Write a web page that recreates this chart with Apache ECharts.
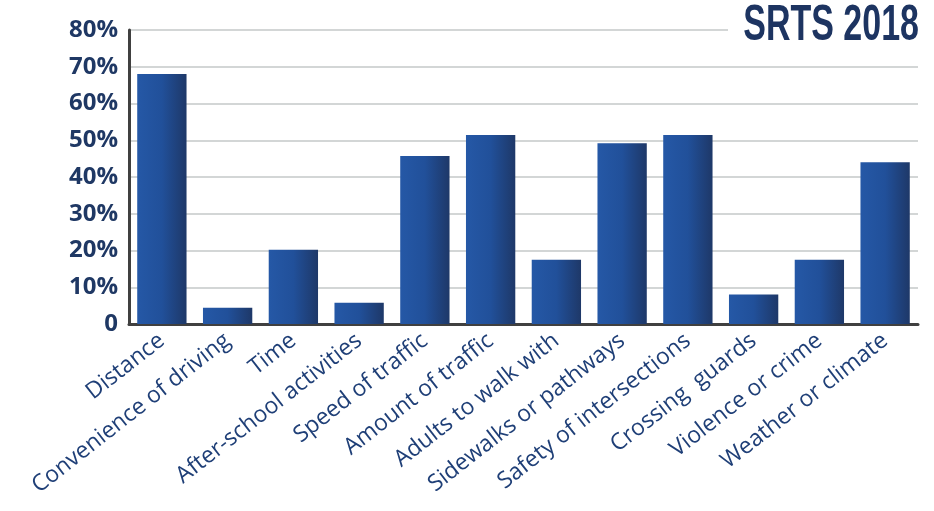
<!DOCTYPE html>
<html>
<head>
<meta charset="utf-8">
<script src="https://cdn.jsdelivr.net/npm/echarts@6/dist/echarts.min.js"></script>
<style>
html,body{margin:0;padding:0;background:#fff;}
#chart{width:934px;height:511px;}
</style>
</head>
<body>
<div id="chart"></div>
<script>
const categories = ['Distance', 'Convenience of driving', 'Time', 'After-school activities', 'Speed of traffic', 'Amount of traffic', 'Adults to walk with', 'Sidewalks or pathways', 'Safety of intersections', 'Crossing  guards', 'Violence or crime', 'Weather or climate'];
const values = [68, 4.4, 20.2, 5.8, 45.7, 51.4, 17.5, 49.2, 51.4, 8.0, 17.5, 44.0];
const yTicks = [0, 10, 20, 30, 40, 50, 60, 70, 80];
const titleText = 'SRTS 2018';

const chart = echarts.init(document.getElementById('chart'), null, {renderer: 'canvas'});
const option = {
  animation: false,
  backgroundColor: '#ffffff',
  grid: {left: 129, right: 16, top: 30, bottom: 187, containLabel: false},
  xAxis: {
    type: 'category',
    data: categories,
    axisLine: {show: true, lineStyle: {color: '#404040', width: 3}},
    axisTick: {show: false},
    axisLabel: {
      interval: 0,
      rotate: 38,
      margin: 14,
      color: '#1f3f77',
      fontFamily: 'Open Sans',
      fontSize: 23
    }
  },
  yAxis: {
    type: 'value',
    min: yTicks[0],
    max: yTicks[yTicks.length - 1],
    interval: 10,
    axisLine: {show: true, lineStyle: {color: '#404040', width: 3}},
    axisTick: {show: false},
    splitLine: {show: true, lineStyle: {color: '#d3d6d6', width: 2}},
    axisLabel: {
      margin: 11,
      color: '#1f3864',
      fontFamily: 'Open Sans',
      fontWeight: 'bold',
      fontSize: 24,
      formatter: v => v === 0 ? '0' : v + '%'
    }
  },
  series: [{
    type: 'bar',
    data: values,
    barCategoryGap: '25%',
    itemStyle: {
      color: new echarts.graphic.LinearGradient(0, 0, 1, 0, [
        {offset: 0, color: '#2558a6'},
        {offset: 0.5, color: '#21509a'},
        {offset: 1, color: '#1e3868'}
      ])
    }
  }],
  graphic: [
    {type: 'rect', z: 100, zlevel: 1, shape: {x: 728, y: 0, width: 206, height: 50}, style: {fill: '#ffffff'}},
    {
      type: 'text',
      z: 101, zlevel: 1,
      x: 919, y: 1,
      scaleX: 0.68,
      style: {
        text: titleText,
        fill: '#1d3461',
        fontFamily: 'Liberation Sans',
        fontWeight: 'bold',
        fontSize: 50,
        textAlign: 'right',
        textVerticalAlign: 'top'
      }
    }
  ]
};
chart.setOption(option);
</script>
</body>
</html>
